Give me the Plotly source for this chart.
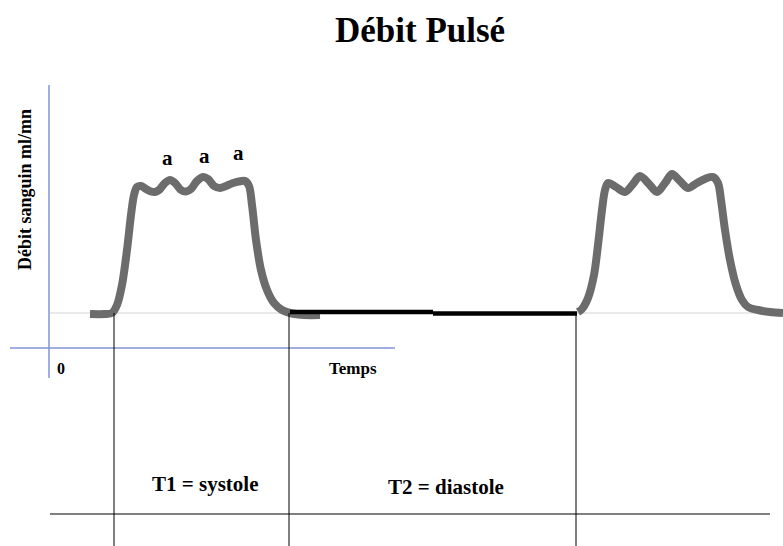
import plotly.graph_objects as go

# Time (arbitrary units, origin on the vertical axis) and flow (origin on the time axis)
pulse1_t = [41, 56, 63, 68, 73, 78, 82, 85, 88, 92, 97, 102, 106, 110, 116, 121, 126, 132, 137,
            142, 148, 154, 159, 165, 171, 177, 184, 190, 196, 200, 203, 207, 212, 218, 225, 233,
            241, 256, 271]
pulse1_q = [34, 34, 35, 43, 63, 98, 133, 153, 161, 162, 159, 156.5, 156, 158, 165, 168, 165, 158,
            156.5, 159, 167, 171, 169, 162, 160, 162, 165, 166.5, 167, 162, 143, 108, 78, 58, 45,
            38, 35, 33, 33]

pulse2_t = [529, 533, 539, 545, 549, 553, 556, 559, 567, 576, 584, 591, 600, 608, 616, 623, 631,
            639, 648, 658, 664, 669, 672, 676, 681, 687, 693, 699, 709, 721, 734]
pulse2_q = [36, 39, 50, 73, 103, 138, 158, 165, 161, 156, 164, 172, 164, 156, 165, 174, 167,
            160, 165, 170, 171, 165, 148, 118, 88, 63, 48, 41, 38, 36, 35]

# Diastole plateau (two strokes)
diast_t = [241, 384, None, 384, 528]
diast_q = [36, 36, None, 34.5, 34.5]

baseline_q = 35
phase_bounds = [65, 240, 527]
peak_labels_t = [118, 155, 189]
peak_labels_q = [190, 192, 195]

fig = go.Figure()

# light baseline
fig.add_trace(go.Scatter(x=[1, 734], y=[baseline_q, baseline_q], mode="lines",
                         line=dict(color="#d4d4d4", width=1), hoverinfo="skip"))
# pulses
for t, q in ((pulse1_t, pulse1_q), (pulse2_t, pulse2_q)):
    fig.add_trace(go.Scatter(x=t, y=q, mode="lines",
                             line=dict(color="#6c6c6c", width=8, shape="spline", smoothing=0.9),
                             hoverinfo="skip"))
fig.add_trace(go.Scatter(x=diast_t, y=diast_q, mode="lines", line=dict(color="#000000", width=4.5),
                         hoverinfo="skip"))

shapes = []
blue = "#8094d6"
shapes.append(dict(type="line", x0=0, x1=0, y0=-30, y1=263, xref="x", yref="y", line=dict(color=blue, width=1.5)))
shapes.append(dict(type="line", x0=-39, x1=346, y0=0, y1=0, xref="x", yref="y", line=dict(color=blue, width=1.5)))
for b in phase_bounds:
    shapes.append(dict(type="line", x0=b, x1=b, y0=baseline_q, y1=-198, xref="x", yref="y",
                       line=dict(color="#000000", width=1)))
shapes.append(dict(type="line", x0=1, x1=721, y0=-166, y1=-166, xref="x", yref="y",
                   line=dict(color="#000000", width=1)))

serif = "Liberation Serif"
ann = []
ann.append(dict(text="<b>Débit Pulsé</b>", x=0.537, y=0.945, xref="paper", yref="paper", showarrow=False,
                yanchor="middle", font=dict(family=serif, size=35, color="#000")))
for t, q in zip(peak_labels_t, peak_labels_q):
    ann.append(dict(text="<b>a</b>", x=t, y=q, xref="x", yref="y", showarrow=False,
                    font=dict(family=serif, size=21, color="#000")))
ann.append(dict(text="<b>Débit sanguin ml/mn</b>", x=-24, y=158, xref="x", yref="y", showarrow=False,
                textangle=-90, font=dict(family=serif, size=18, color="#000")))
ann.append(dict(text="<b>0</b>", x=12, y=-20, xref="x", yref="y", showarrow=False,
                font=dict(family=serif, size=16, color="#000")))
ann.append(dict(text="<b>Temps</b>", x=304, y=-20, xref="x", yref="y", showarrow=False,
                font=dict(family=serif, size=17, color="#000")))
ann.append(dict(text="<b>T1 = systole</b>", x=156, y=-136, xref="x", yref="y", showarrow=False,
                font=dict(family=serif, size=21, color="#000")))
ann.append(dict(text="<b>T2 = diastole</b>", x=397, y=-139, xref="x", yref="y", showarrow=False,
                font=dict(family=serif, size=21, color="#000")))

fig.update_layout(
    width=783, height=546, margin=dict(l=0, r=0, t=0, b=0),
    paper_bgcolor="white", plot_bgcolor="white", showlegend=False,
    xaxis=dict(range=[-49, 734], visible=False, fixedrange=True),
    yaxis=dict(range=[-198, 348], visible=False, fixedrange=True),
    shapes=shapes, annotations=ann,
)

fig.write_html("out.html", config={"displayModeBar": False})
